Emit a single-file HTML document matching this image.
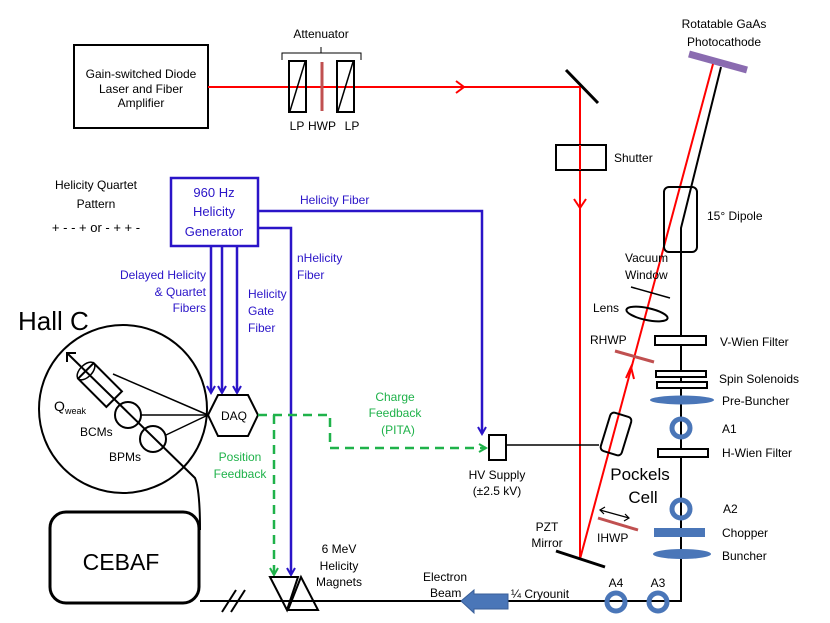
<!DOCTYPE html>
<html><head><meta charset="utf-8"><style>
html,body{margin:0;padding:0;background:#fff;}
svg{display:block;}
text{font-family:"Liberation Sans",sans-serif;font-size:12px;fill:#000;}
.b{fill:#2a14c8;}
.g{fill:#1fb24a;}
</style></head><body>
<svg width="830" height="623" viewBox="0 0 830 623" xmlns="http://www.w3.org/2000/svg">
<defs>
<marker id="ab" markerWidth="10" markerHeight="10" refX="8" refY="5" orient="auto" markerUnits="userSpaceOnUse"><path d="M1,1 L8,5 L1,9" fill="none" stroke="#2a14c8" stroke-width="2"/></marker>
<marker id="ag" markerWidth="10" markerHeight="10" refX="8" refY="5" orient="auto" markerUnits="userSpaceOnUse"><path d="M1,1 L8,5 L1,9" fill="none" stroke="#1fb24a" stroke-width="2"/></marker>
</defs>
<rect x="74" y="45" width="134" height="83" fill="none" stroke="#000" stroke-width="2"/>
<text x="141" y="78" text-anchor="middle">Gain-switched Diode</text>
<text x="141" y="93" text-anchor="middle">Laser and Fiber</text>
<text x="141" y="107" text-anchor="middle">Amplifier</text>
<line x1="208" y1="87" x2="581" y2="87" stroke="#f00" stroke-width="2"/>
<path d="M456,81 L464,87 L456,93" fill="none" stroke="#f00" stroke-width="2"/>
<line x1="566" y1="70" x2="598" y2="103" stroke="#000" stroke-width="3"/>
<line x1="580" y1="87" x2="580" y2="560" stroke="#f00" stroke-width="2"/>
<path d="M574,199 L580,208 L586,199" fill="none" stroke="#f00" stroke-width="2"/>
<rect x="556" y="145" width="50" height="25" fill="#fff" stroke="#000" stroke-width="2"/>
<line x1="580" y1="145" x2="580" y2="170" stroke="#f00" stroke-width="2"/>
<text x="614" y="162">Shutter</text>
<text x="321" y="38" text-anchor="middle">Attenuator</text>
<path d="M282,60 L282,53 L361,53 L361,60 M321,53 L321,47" fill="none" stroke="#000" stroke-width="1"/>
<rect x="289" y="61" width="17" height="51" fill="none" stroke="#000" stroke-width="2"/>
<line x1="290" y1="111" x2="305" y2="62" stroke="#000" stroke-width="1.5"/>
<rect x="337" y="61" width="17" height="51" fill="none" stroke="#000" stroke-width="2"/>
<line x1="338" y1="111" x2="353" y2="62" stroke="#000" stroke-width="1.5"/>
<line x1="322" y1="62" x2="322" y2="111" stroke="#c05050" stroke-width="3"/>
<text x="297" y="130" text-anchor="middle">LP</text>
<text x="322" y="130" text-anchor="middle">HWP</text>
<text x="352" y="130" text-anchor="middle">LP</text>
<line x1="689" y1="54" x2="747" y2="70" stroke="#8a6bb0" stroke-width="7"/>
<text x="724" y="28" text-anchor="middle">Rotatable GaAs</text>
<text x="724" y="46" text-anchor="middle">Photocathode</text>
<line x1="580" y1="559" x2="713" y2="64" stroke="#f00" stroke-width="2"/>
<path d="M626,378 L631,367 L634,379" fill="none" stroke="#f00" stroke-width="2"/>
<polyline points="721,67 681,228 681,601 200,601" fill="none" stroke="#000" stroke-width="2"/>
<rect x="664" y="187" width="33" height="65" rx="5" fill="none" stroke="#000" stroke-width="2"/>
<text x="707" y="220">15° Dipole</text>
<text x="625" y="262">Vacuum</text>
<text x="625" y="279">Window</text>
<line x1="631" y1="287" x2="670" y2="298" stroke="#000" stroke-width="1.5"/>
<ellipse cx="647" cy="314" rx="21" ry="6" transform="rotate(12 647 314)" fill="none" stroke="#000" stroke-width="2"/>
<text x="593" y="312">Lens</text>
<text x="590" y="344">RHWP</text>
<line x1="615" y1="351" x2="654" y2="362" stroke="#c05050" stroke-width="3"/>
<rect x="655" y="336" width="51" height="9" fill="#fff" stroke="#000" stroke-width="2"/>
<text x="720" y="346">V-Wien Filter</text>
<rect x="656" y="371" width="50" height="6" fill="#fff" stroke="#000" stroke-width="2"/>
<rect x="657" y="382" width="50" height="6" fill="#fff" stroke="#000" stroke-width="2"/>
<text x="719" y="383">Spin Solenoids</text>
<ellipse cx="682" cy="400" rx="32" ry="4.5" fill="#4a76b8"/>
<text x="722" y="405">Pre-Buncher</text>
<circle cx="681" cy="428" r="9" fill="none" stroke="#4a76b8" stroke-width="5"/>
<text x="722" y="433">A1</text>
<rect x="658" y="449" width="50" height="8" fill="#fff" stroke="#000" stroke-width="2"/>
<text x="722" y="457">H-Wien Filter</text>
<circle cx="681" cy="509" r="9" fill="none" stroke="#4a76b8" stroke-width="5"/>
<text x="723" y="513">A2</text>
<rect x="654" y="528" width="51" height="9" fill="#4a76b8"/>
<text x="722" y="537">Chopper</text>
<ellipse cx="682" cy="554" rx="29" ry="5" fill="#4a76b8"/>
<text x="722" y="560">Buncher</text>
<circle cx="616" cy="602" r="9" fill="none" stroke="#4a76b8" stroke-width="5"/>
<circle cx="658" cy="602" r="9" fill="none" stroke="#4a76b8" stroke-width="5"/>
<text x="616" y="587" text-anchor="middle">A4</text>
<text x="658" y="587" text-anchor="middle">A3</text>
<path d="M461,601 L474,590 L474,594 L508,594 L508,609 L474,609 L474,613 Z" fill="#4a76b8" stroke="#3a5f98" stroke-width="1"/>
<text x="511" y="598">¼ Cryounit</text>
<text x="423" y="581">Electron</text>
<text x="430" y="597">Beam</text>
<line x1="556" y1="551" x2="605" y2="567" stroke="#000" stroke-width="3"/>
<text x="547" y="531" text-anchor="middle">PZT</text>
<text x="547" y="547" text-anchor="middle">Mirror</text>
<line x1="598" y1="518" x2="638" y2="530" stroke="#c05050" stroke-width="3"/>
<text x="597" y="542">IHWP</text>
<line x1="600" y1="510" x2="629" y2="518" stroke="#000" stroke-width="1.2"/>
<path d="M605,507 L600,510 L604,514 M625,514 L629,518 L624,521" fill="none" stroke="#000" stroke-width="1.2"/>
<rect x="605" y="414" width="22" height="40" rx="4" transform="rotate(17 616 434)" fill="none" stroke="#000" stroke-width="2"/>
<text x="640" y="480" text-anchor="middle" style="font-size:17px">Pockels</text>
<text x="643" y="503" text-anchor="middle" style="font-size:17px">Cell</text>
<rect x="489" y="435" width="17" height="25" fill="#fff" stroke="#000" stroke-width="2"/>
<line x1="506" y1="445" x2="599" y2="445" stroke="#000" stroke-width="1.5"/>
<text x="497" y="479" text-anchor="middle">HV Supply</text>
<text x="497" y="495" text-anchor="middle">(±2.5 kV)</text>
<text x="96" y="189" text-anchor="middle">Helicity Quartet</text>
<text x="96" y="208" text-anchor="middle">Pattern</text>
<text x="96" y="232" text-anchor="middle" style="font-size:13px">+ - - + or - + + -</text>
<rect x="171" y="178" width="87" height="68" fill="none" stroke="#2a14c8" stroke-width="2.5"/>
<text class="b" x="214" y="197" text-anchor="middle" style="font-size:13px">960 Hz</text>
<text class="b" x="214" y="216" text-anchor="middle" style="font-size:13px">Helicity</text>
<text class="b" x="214" y="236" text-anchor="middle" style="font-size:13px">Generator</text>
<polyline points="258,211 482,211 482,434" fill="none" stroke="#2a14c8" stroke-width="2.5" marker-end="url(#ab)"/>
<text class="b" x="300" y="204">Helicity Fiber</text>
<polyline points="258,228 291,228 291,575" fill="none" stroke="#2a14c8" stroke-width="2.5" marker-end="url(#ab)"/>
<text class="b" x="297" y="262">nHelicity</text>
<text class="b" x="297" y="279">Fiber</text>
<line x1="211" y1="246" x2="211" y2="393" stroke="#2a14c8" stroke-width="2.5" marker-end="url(#ab)"/>
<line x1="222" y1="246" x2="222" y2="393" stroke="#2a14c8" stroke-width="2.5" marker-end="url(#ab)"/>
<line x1="237" y1="246" x2="237" y2="393" stroke="#2a14c8" stroke-width="2.5" marker-end="url(#ab)"/>
<text class="b" x="206" y="279" text-anchor="end">Delayed Helicity</text>
<text class="b" x="206" y="296" text-anchor="end">&amp; Quartet</text>
<text class="b" x="206" y="312" text-anchor="end">Fibers</text>
<text class="b" x="248" y="298">Helicity</text>
<text class="b" x="248" y="315">Gate</text>
<text class="b" x="248" y="332">Fiber</text>
<polygon points="208,415 218,395 248,395 258,415 248,436 218,436" fill="#fff" stroke="#000" stroke-width="2"/>
<text x="234" y="420" text-anchor="middle">DAQ</text>
<polyline points="258,415 330,415 330,448 486,448" fill="none" stroke="#1fb24a" stroke-width="2.5" stroke-dasharray="9,6" marker-end="url(#ag)"/>
<line x1="274" y1="415" x2="274" y2="575" stroke="#1fb24a" stroke-width="2.5" stroke-dasharray="9,6" marker-end="url(#ag)"/>
<text class="g" x="395" y="401" text-anchor="middle">Charge</text>
<text class="g" x="395" y="417" text-anchor="middle">Feedback</text>
<text class="g" x="398" y="434" text-anchor="middle">(PITA)</text>
<text class="g" x="240" y="461" text-anchor="middle">Position</text>
<text class="g" x="240" y="478" text-anchor="middle">Feedback</text>
<text x="18" y="330" style="font-size:26px">Hall C</text>
<circle cx="123" cy="409" r="84" fill="none" stroke="#000" stroke-width="2"/>
<path d="M67,353 L195,478 Q200,490 200,530" fill="none" stroke="#000" stroke-width="2"/>
<path d="M67,362 L67,353 L76,353" fill="none" stroke="#000" stroke-width="2"/>
<rect x="80" y="374" width="40" height="22" transform="rotate(45 100 385)" fill="none" stroke="#000" stroke-width="2"/>
<ellipse cx="86" cy="371" rx="11" ry="6" transform="rotate(-45 86 371)" fill="none" stroke="#000" stroke-width="1.5"/>
<circle cx="128" cy="415" r="13" fill="none" stroke="#000" stroke-width="2"/>
<circle cx="153" cy="439" r="13" fill="none" stroke="#000" stroke-width="2"/>
<line x1="208" y1="415" x2="113" y2="374" stroke="#000" stroke-width="1.5"/>
<line x1="208" y1="415" x2="141" y2="415" stroke="#000" stroke-width="1.5"/>
<line x1="208" y1="415" x2="166" y2="435" stroke="#000" stroke-width="1.5"/>
<text x="54" y="411" style="font-size:14px">Q</text>
<text x="65" y="414" style="font-size:9px">weak</text>
<text x="80" y="436">BCMs</text>
<text x="109" y="461">BPMs</text>
<rect x="50" y="512" width="149" height="91" rx="16" fill="#fff" stroke="#000" stroke-width="3"/>
<text x="121" y="570" text-anchor="middle" style="font-size:23px">CEBAF</text>
<line x1="222" y1="612" x2="236" y2="590" stroke="#000" stroke-width="2"/>
<line x1="231" y1="612" x2="245" y2="590" stroke="#000" stroke-width="2"/>
<polygon points="270,577 298,577 287,610" fill="none" stroke="#000" stroke-width="2"/>
<polygon points="301,577 288,610 318,610" fill="none" stroke="#000" stroke-width="2"/>
<text x="339" y="553" text-anchor="middle">6 MeV</text>
<text x="339" y="570" text-anchor="middle">Helicity</text>
<text x="339" y="586" text-anchor="middle">Magnets</text>
</svg>
</body></html>
